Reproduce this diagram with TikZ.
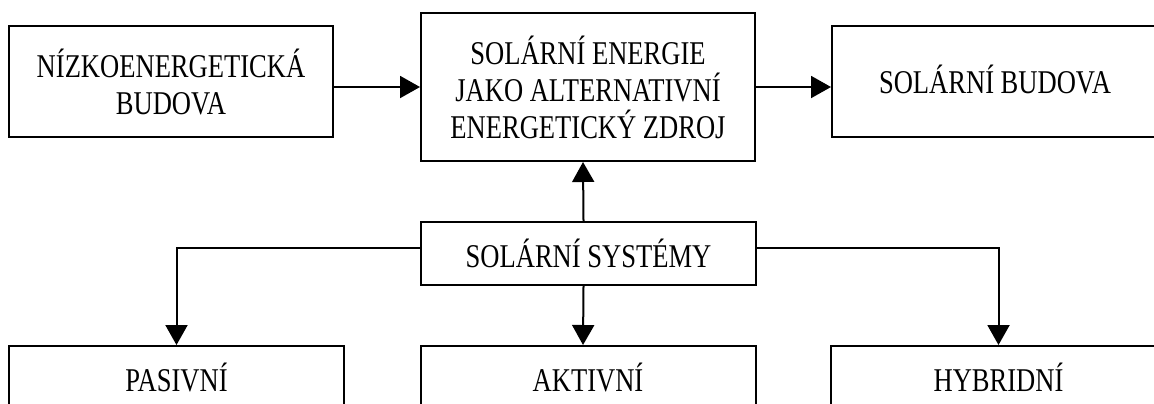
\documentclass[tikz,border=0pt]{standalone}
\usepackage{fontspec}
\setmainfont{Liberation Serif}[FakeStretch=0.8]
\usepackage{tikz}
\usetikzlibrary{arrows.meta,positioning,calc}

\begin{document}
\begin{tikzpicture}[
  x=0.5pt, y=-0.5pt,
  box/.style={draw, line width=1pt, align=center, inner sep=0pt,
    font=\fontsize{16.6}{18.5}\selectfont},
  upper/.style={box, minimum width=163pt, minimum height=55.5pt},
  lower/.style={box, minimum width=167.5pt, minimum height=31.5pt},
  conn/.style={-{Triangle[length=10pt,width=11pt]}, line width=1pt}
]
\useasboundingbox (0,0) rectangle (1154,403);

\node[upper, minimum width=162pt] (lowbld) at (171,81.5) {NÍZKOENERGETICKÁ\\BUDOVA};
\node[box, minimum width=167pt, minimum height=74pt] (solen) at (588,87)
  {SOLÁRNÍ ENERGIE\\JAKO ALTERNATIVNÍ\\ENERGETICKÝ ZDROJ};
\node[upper] (solbld) at (995,81.5) {\raisebox{2pt}{SOLÁRNÍ BUDOVA}};

\node[lower] (solsys) at (588.5,253.5) {SOLÁRNÍ SYSTÉMY};
\node[lower] (pas) at (176.5,377.5) {PASIVNÍ};
\node[lower] (akt) at (588,377.5) {AKTIVNÍ};
\node[lower] (hyb) at (998.5,377.5) {HYBRIDNÍ};

\draw[conn] (lowbld.east |- solen.west) -- (solen.west);
\draw[conn] (solen.east) -- (solbld.west |- solen.east);
\draw[conn] ([xshift=-2.5pt]solsys.north) -- ([xshift=-2.5pt]solen.south);

\draw[conn] ([yshift=3pt]solsys.west) -| (pas.north);
\draw[conn] ([xshift=-2.5pt]solsys.south) -- ([xshift=-2.5pt]akt.north);
\draw[conn] ([yshift=3pt]solsys.east) -| (hyb.north);
\end{tikzpicture}
\end{document}
